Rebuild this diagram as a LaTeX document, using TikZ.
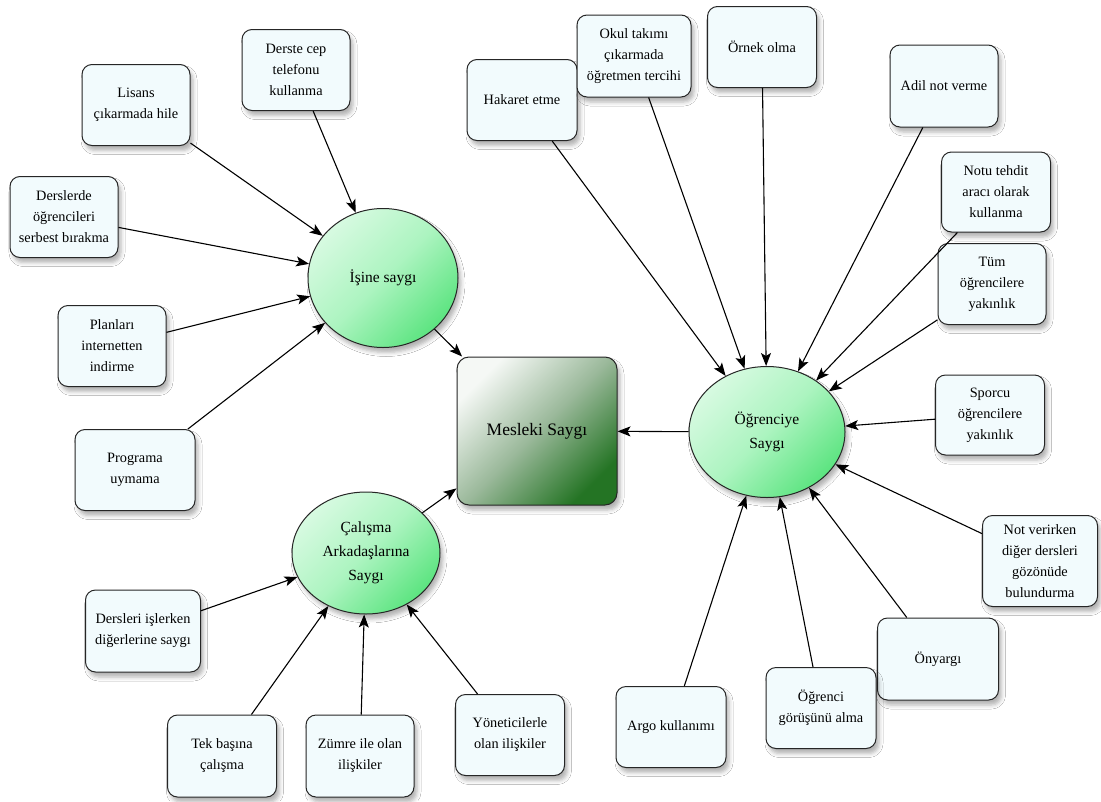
\documentclass[tikz,border=0pt]{standalone}
\usepackage{fontspec}
\setmainfont{Liberation Serif}
\usepackage{tikz}
\usetikzlibrary{shapes,shadows,shadows.blur}
\usetikzlibrary{arrows.meta}
\definecolor{kutufill}{RGB}{242,251,253}
\definecolor{acikyesil}{RGB}{215,250,225}
\definecolor{yesil}{RGB}{172,244,192}
\definecolor{koyuyesil}{RGB}{92,228,128}
\definecolor{meslekorta}{RGB}{155,185,155}
\definecolor{meslekkoyu}{RGB}{36,116,36}
\tikzstyle{golge}=[blur shadow={shadow xshift=3pt,shadow yshift=-5pt,shadow blur radius=4pt,shadow opacity=30}]
\tikzstyle{kutu}=[rectangle,rounded corners=10pt,draw=black!85,line width=1pt,fill=kutufill,align=center,inner sep=2pt,font=\fontsize{14.3}{21}\selectfont,golge]
\tikzstyle{elips}=[ellipse,draw=black!85,line width=1pt,top color=acikyesil,bottom color=koyuyesil,middle color=yesil,shading angle=45,align=center,inner sep=0pt,font=\fontsize{15.5}{24}\selectfont,golge]
\tikzstyle{ana}=[rectangle,rounded corners=12pt,draw=black!85,line width=1pt,top color=white!90!meslekorta,bottom color=meslekkoyu,middle color=meslekorta,shading angle=45,align=center,font=\fontsize{17.5}{20}\selectfont,golge]
\tikzstyle{edge} = [draw,line width=1.1pt,-{Stealth[length=13pt,width=10pt,inset=3pt]}]

\begin{document}
\begin{tikzpicture}[x=1pt,y=-1pt]

  \useasboundingbox (0,0) rectangle (1101,801);
  \fill[white] (0,0) rectangle (1101,801);

  % ana kavram ve alt kavramlar
  \node[ana, minimum width=160, minimum height=148] (meslek) at (537,431) {Mesleki Saygı};

  \foreach \x/\y/\w/\h/\name/\label in {383/278/150/139/isine/{İşine saygı},
      366/553/148/122/calisma/{Çalışma\\Arkadaşlarına\\Saygı},
      767/432/156/131/ogrenci/{Öğrenciye\\Saygı}}
     \node[elips, minimum width=\w, minimum height=\h] (\name) at (\x,\y) {\label};

  % sol taraf
  \foreach \x/\y/\w/\h/\name/\label in {296/70/108/81/telefon/{Derste cep\\telefonu\\kullanma},
      136/105/108/81/lisans/{Lisans\\çıkarmada hile},
      64/217/108/81/serbest/{Derslerde\\öğrencileri\\serbest bırakma},
      112/346/108/81/plan/{Planları\\internetten\\indirme},
      135/470/120/81/program/{Programa\\uymama},
      143/631/115/82/dersler/{Dersleri işlerken\\diğerlerine saygı},
      222/756/109/82/tekbasina/{Tek başına\\çalışma},
      360/756/108/82/zumre/{Zümre ile olan\\ilişkiler},
      510/735/109/81/yonetici/{Yöneticilerle\\olan ilişkiler}}
     \node[kutu, minimum width=\w, minimum height=\h] (\name) at (\x,\y) {\label};

  % sag taraf
  \foreach \x/\y/\w/\h/\name/\label in {522/100/110/81/hakaret/{Hakaret etme},
      634/56/114/82/okul/{Okul takımı\\çıkarmada\\öğretmen tercihi},
      762/47/109/81/ornek/{Örnek olma},
      944/86/108/82/adil/{Adil not verme},
      996/192/109/80/tehdit/{Notu tehdit\\aracı olarak\\kullanma},
      992/284/108/81/tum/{Tüm\\öğrencilere\\yakınlık},
      990/415/109/80/sporcu/{Sporcu\\öğrencilere\\yakınlık},
      1040/561/115/91/notver/{Not verirken\\diğer dersleri\\gözönüde\\bulundurma},
      938/659/121/82/onyargi/{Önyargı},
      821/708/110/81/gorus/{Öğrenci\\görüşünü alma},
      671/727/110/81/argo/{Argo kullanımı}}
     \node[kutu, minimum width=\w, minimum height=\h] (\name) at (\x,\y) {\label};

  \foreach \source/ \dest in {telefon/isine, lisans/isine, serbest/isine, plan/isine, program/isine,
      dersler/calisma, tekbasina/calisma, zumre/calisma, yonetici/calisma}
         \path[edge] (\source) -- (\dest);

  \foreach \source/ \dest in {hakaret/ogrenci, okul/ogrenci, ornek/ogrenci, adil/ogrenci, tehdit/ogrenci,
      tum/ogrenci, sporcu/ogrenci, notver/ogrenci, onyargi/ogrenci, gorus/ogrenci, argo/ogrenci}
         \path[edge] (\source) -- (\dest);

  \foreach \source/ \dest in {isine/meslek, calisma/meslek, ogrenci/meslek}
         \path[edge] (\source) -- (\dest);

\end{tikzpicture}
\end{document}
